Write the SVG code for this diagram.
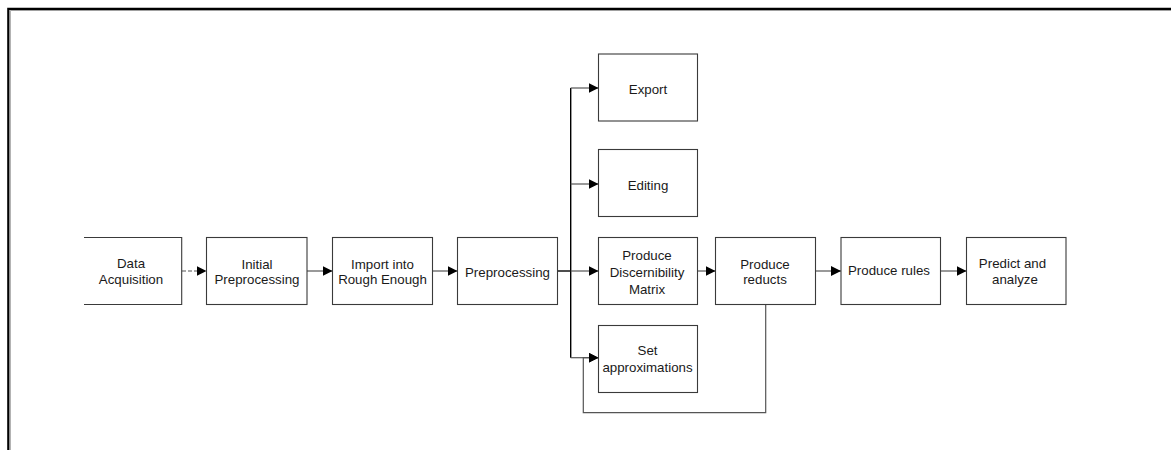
<svg xmlns="http://www.w3.org/2000/svg" width="1171" height="450" viewBox="0 0 1171 450">
<style>
.box{fill:#fff;stroke:#3a3a3a;stroke-width:1.1}
.t{font-family:"Liberation Sans",Arial,sans-serif;font-size:13.3px;fill:#1a1a1a;text-anchor:middle}
.c{fill:none;stroke:#555;stroke-width:1.2}
.bus{fill:none;stroke:#000;stroke-width:1.4}
</style>
<defs>
<marker id="ah" markerUnits="userSpaceOnUse" markerWidth="10" markerHeight="10" refX="10" refY="5" orient="auto">
<path d="M0,0 L10,5 L0,10 z" fill="#000"/>
</marker>
</defs>
<rect width="1171" height="450" fill="#fff"/>
<g id="frame">
<path d="M10.3,450 V10.5 H1171" fill="none" stroke="#a0a0a0" stroke-width="1"/>
<path d="M8.3,450 V8.8 H1171" fill="none" stroke="#000" stroke-width="2.2"/>
</g>
<g id="connectors">
<path class="c" d="M182,271 H206.5" stroke-dasharray="4 2" marker-end="url(#ah)"/>
<path class="c" d="M307,271 H332.5" marker-end="url(#ah)"/>
<path class="c" d="M432.5,271 H457.5" marker-end="url(#ah)"/>
<path class="bus" d="M557.5,271 H570.7"/>
<path class="bus" d="M570.7,88 V357.7"/>
<path class="c" d="M570.7,271 H598.5" marker-end="url(#ah)"/>
<path class="c" d="M570.7,88 H598.5" marker-end="url(#ah)"/>
<path class="c" d="M570.7,184 H598.5" marker-end="url(#ah)"/>
<path class="c" d="M570.7,357.7 H598.5" marker-end="url(#ah)"/>
<path class="c" d="M697.5,271 H715.5" marker-end="url(#ah)"/>
<path class="c" d="M815.5,271 H841" marker-end="url(#ah)"/>
<path class="c" d="M940.5,271 H966.5" marker-end="url(#ah)"/>
<path class="c" d="M765.7,304.5 V412.7 H583.3 V357.7 H598.5" marker-end="url(#ah)"/>
</g>
<g id="data-acquisition">
<path class="box" d="M84,237.5 H181.7 V304.5 H84"/>
<text class="t" x="131" y="268.3">Data</text>
<text class="t" x="131" y="284.3">Acquisition</text>
</g>
<g id="initial-preprocessing">
<rect class="box" x="206.5" y="237.5" width="100.5" height="67"/>
<text class="t" x="257" y="268.8">Initial</text>
<text class="t" x="257" y="284.3">Preprocessing</text>
</g>
<g id="import">
<rect class="box" x="332.5" y="237.5" width="100" height="67"/>
<text class="t" x="382.5" y="268.5">Import into</text>
<text class="t" x="382.5" y="284.3">Rough Enough</text>
</g>
<g id="preprocessing">
<rect class="box" x="457.5" y="237.5" width="100" height="67"/>
<text class="t" x="507.5" y="277.3">Preprocessing</text>
</g>
<g id="export">
<rect class="box" x="598.5" y="54" width="99" height="67"/>
<text class="t" x="648" y="94.3">Export</text>
</g>
<g id="editing">
<rect class="box" x="598.5" y="149.5" width="99" height="67"/>
<text class="t" x="648" y="190">Editing</text>
</g>
<g id="discernibility">
<rect class="box" x="598.5" y="237.5" width="99" height="67"/>
<text class="t" x="647" y="260.3">Produce</text>
<text class="t" x="647" y="277.3">Discernibility</text>
<text class="t" x="647" y="293.5">Matrix</text>
</g>
<g id="set-approximations">
<rect class="box" x="598.5" y="325.5" width="99" height="67"/>
<text class="t" x="647.5" y="355">Set</text>
<text class="t" x="647.5" y="372">approximations</text>
</g>
<g id="reducts">
<rect class="box" x="715.5" y="237.5" width="100" height="67"/>
<text class="t" x="765" y="269">Produce</text>
<text class="t" x="765" y="284.3">reducts</text>
</g>
<g id="rules">
<rect class="box" x="841" y="237.5" width="99.5" height="67"/>
<text class="t" x="889" y="275.3">Produce rules</text>
</g>
<g id="predict">
<rect class="box" x="966.5" y="237.5" width="99.5" height="67"/>
<text class="t" x="1012.5" y="268.3">Predict and</text>
<text class="t" x="1015" y="283.5">analyze</text>
</g>
</svg>
